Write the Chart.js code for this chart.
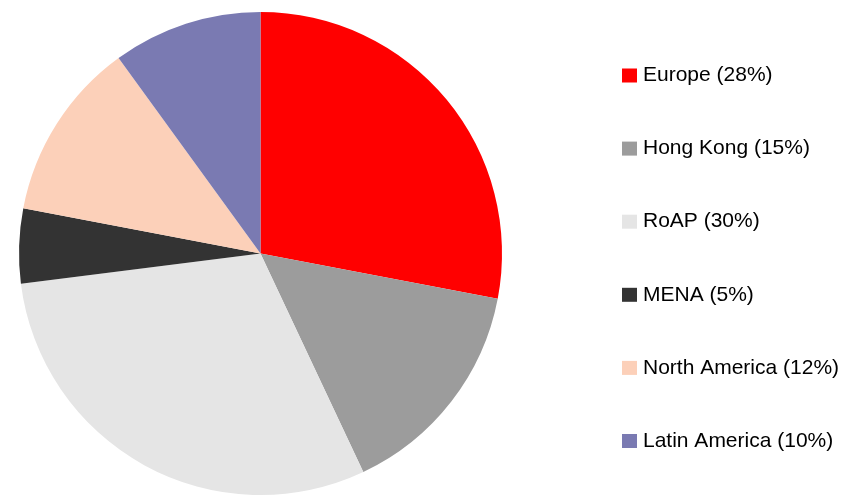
<!DOCTYPE html>
<html>
<head>
<meta charset="utf-8">
<script src="https://cdn.jsdelivr.net/npm/chart.js@4"></script>
<style>
  html, body { margin: 0; padding: 0; background: #fff; }
  #wrap { width: 857px; height: 495px; position: relative; }
</style>
</head>
<body>
<div id="wrap"><canvas id="pieChart" width="857" height="495"></canvas></div>
<script>
const regions = ['Europe', 'Hong Kong', 'RoAP', 'MENA', 'North America', 'Latin America'];
const shares = [28, 15, 30, 5, 12, 10];
const colors = ['#FF0000', '#9C9C9C', '#E5E5E5', '#333333', '#FCD0B9', '#7A7AB2'];

// legend drawn on the right, one row per region
const sideLegend = {
    id: 'sideLegend',
    afterDraw(chart) {
        const ctx = chart.ctx;
        const labels = chart.data.labels;
        const data = chart.data.datasets[0].data;
        const bg = chart.data.datasets[0].backgroundColor;
        ctx.save();
        ctx.font = '21px "Liberation Sans", Arial, sans-serif';
        ctx.textBaseline = 'middle';
        labels.forEach(function (lbl, i) {
            const y = 75.5 + i * 73.1;
            ctx.fillStyle = bg[i];
            ctx.fillRect(622, y - 7, 15, 14);
            ctx.fillStyle = '#000';
            ctx.fillText(lbl + ' (' + data[i] + '%)', 643, y);
        });
        ctx.restore();
    }
};

document.addEventListener("DOMContentLoaded", function () {
    const ctx = document.getElementById('pieChart').getContext('2d');
    new Chart(ctx, {
        type: 'pie',
        data: {
            labels: regions,
            datasets: [{
                data: shares,
                backgroundColor: colors,
                borderWidth: 0
            }]
        },
        options: {
            responsive: false,
            animation: false,
            layout: { padding: { left: 19, top: 12, right: 355, bottom: 0 } },
            plugins: {
                legend: { display: false },
                tooltip: { enabled: false }
            }
        },
        plugins: [sideLegend]
    });
});
</script>
</body>
</html>
